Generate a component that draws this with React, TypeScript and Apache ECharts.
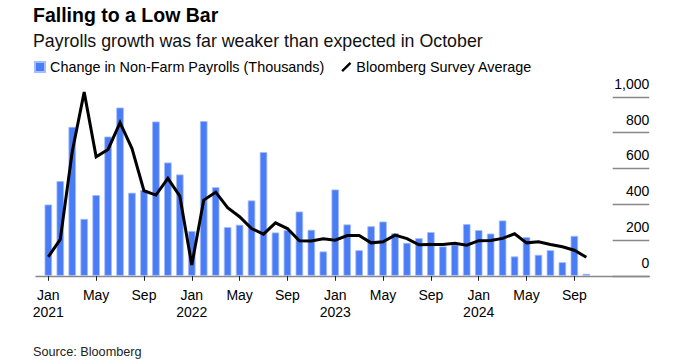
import React, { useEffect, useRef } from "react";
import * as echarts from "echarts";

const months = ["Jan", "Feb", "Mar", "Apr", "May", "Jun", "Jul", "Aug", "Sep", "Oct", "Nov", "Dec"];
const startYear = 2021;

// Change in Non-Farm Payrolls (thousands), Jan 2021 .. Oct 2024
const payrolls = [
  398, 529, 832, 318, 451, 778, 940, 464, 479, 862, 633, 566,
  250, 864, 495, 272, 285, 421, 691, 242, 255, 359, 257, 136,
  482, 287, 143, 277, 303, 238, 184, 210, 244, 164, 175, 289,
  255, 236, 309, 108, 216, 117, 143, 76, 223, 11,
];

// Bloomberg Survey Average (thousands)
const survey = [
  106, 203, 693, 1026, 665, 706, 856, 711, 475, 451, 544, 445,
  60, 423, 467, 380, 330, 264, 233, 296, 264, 196, 194, 207,
  199, 225, 225, 184, 190, 227, 208, 173, 175, 175, 182, 171,
  196, 197, 209, 235, 184, 190, 175, 162, 143, 104,
];

const xTicks = [0, 4, 8, 12, 16, 20, 24, 28, 32, 36, 40, 44];
const yTicks = [0, 200, 400, 600, 800, 1000];

const title = "Falling to a Low Bar";
const subtitle = "Payrolls growth was far weaker than expected in October";
const source = "Source: Bloomberg";
const barName = "Change in Non-Farm Payrolls (Thousands)";
const lineName = "Bloomberg Survey Average";

const FONT = "'Liberation Sans', Arial, Helvetica, sans-serif";

export default function App() {
  const ref = useRef<HTMLDivElement>(null);

  useEffect(() => {
    if (!ref.current) return;
    const chart = echarts.init(ref.current, null, { renderer: "svg" });
    const option: any = {
      animation: false,
      textStyle: { fontFamily: FONT },
      grid: {
        left: 36,
        right: 26.7,
        top: 96.8,
        bottom: 88.2,
        containLabel: false,
        outerBoundsMode: "none",
      },
      legend: {
        left: 34,
        top: 60,
        padding: 0,
        itemWidth: 10,
        itemHeight: 10,
        itemGap: 17,
        selectedMode: false,
        textStyle: { fontSize: 14.4, color: "#000", fontFamily: FONT },
        data: [
          { name: barName, icon: "rect" },
          { name: lineName, icon: "path://M2,12 L0,10 L10,0 L12,2 Z" },
        ],
      },
      xAxis: {
        type: "value",
        min: -1.03,
        max: 50.27,
        axisLine: { show: true, onZero: false, lineStyle: { color: "#888", width: 1.3 } },
        axisTick: {
          show: true,
          customValues: xTicks,
          length: 5,
          lineStyle: { color: "#222", width: 1 },
        },
        axisLabel: {
          customValues: xTicks,
          margin: 11,
          fontSize: 14,
          lineHeight: 17,
          color: "#000",
          fontFamily: FONT,
          formatter: (v: number) => {
            const i = Math.round(v);
            const m = months[i % 12];
            return i % 12 === 0 ? `${m}\n${startYear + Math.floor(i / 12)}` : m;
          },
        },
        splitLine: { show: false },
      },
      yAxis: {
        type: "value",
        position: "right",
        min: yTicks[0],
        max: yTicks[yTicks.length - 1],
        interval: 200,
        axisLine: { show: false, onZero: false },
        axisTick: {
          show: true,
          inside: true,
          length: 36.6,
          lineStyle: { color: "#888", width: 1.3 },
        },
        splitLine: { show: false },
        axisLabel: {
          inside: true,
          margin: 0,
          fontSize: 14,
          color: "#000",
          fontFamily: FONT,
          verticalAlign: "bottom",
          padding: [0, 0, 6, 0],
          formatter: (v: number) => v.toLocaleString("en-US"),
        },
      },
      series: [
        {
          name: barName,
          type: "bar",
          barWidth: 7.5,
          itemStyle: { color: "#4A7CF6", borderColor: "#A3BCFA", borderWidth: 0.8 },
          data: payrolls.map((v, i) => [i, v]),
        },
        {
          name: lineName,
          type: "line",
          symbol: "none",
          clip: false,
          itemStyle: { color: "#000" },
          lineStyle: { color: "#000", width: 3, join: "miter", miterLimit: 10 },
          data: survey.map((v, i) => [i, v]),
        },
      ],
      graphic: [
        {
          type: "text",
          left: 33,
          top: 5,
          style: { text: title, fontSize: 19.5, fontWeight: "bold", fill: "#000", fontFamily: FONT },
        },
        {
          type: "text",
          left: 33,
          top: 32,
          style: { text: subtitle, fontSize: 17.8, fill: "#111", fontFamily: FONT },
        },
        {
          type: "text",
          left: 33,
          top: 345,
          style: { text: source, fontSize: 12.7, fill: "#222", fontFamily: FONT },
        },
      ],
    };
    chart.setOption(option);
    return () => chart.dispose();
  }, []);

  return (
    <div
      ref={ref}
      style={{ position: "fixed", left: 0, top: 0, width: 676, height: 364, background: "#fff" }}
    />
  );
}
